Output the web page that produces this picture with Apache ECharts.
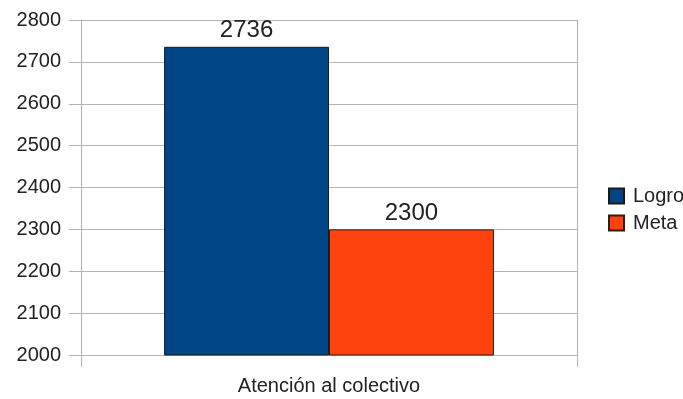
<!DOCTYPE html>
<html><head><meta charset="utf-8">
<script src="https://cdn.jsdelivr.net/npm/echarts@6/dist/echarts.min.js"></script>
<style>html,body{margin:0;padding:0;background:#fff}#c{width:683px;height:399px}</style>
</head><body><div id="c"></div>
<script>
var categories = ["Atención al colectivo"];
var seriesNames = ["Logro", "Meta"];
var logro = [2736];
var meta = [2300];
var yMin = 2000, yMax = 2800, yStep = 100;

var chart = echarts.init(document.getElementById('c'), null, {renderer: 'canvas'});
var font = 'Liberation Sans';
chart.setOption({
  animation: false,
  backgroundColor: '#fff',
  grid: {left: 81, right: 106, top: 20, bottom: 44, containLabel: false},
  legend: {
    orient: 'vertical', left: 603, top: 181,
    itemWidth: 15, itemHeight: 15, itemGap: 7,
    icon: 'rect',
    textStyle: {fontFamily: font, fontSize: 20, color: '#222', padding: [0,0,0,4], lineHeight: 20},
    data: seriesNames
  },
  xAxis: {
    type: 'category', data: categories,
    axisLine: {lineStyle: {color: '#b3b3b3'}},
    axisTick: {show: true, length: 12, lineStyle: {color: '#b3b3b3'}},
    splitLine: {show: true, lineStyle: {color: '#b3b3b3'}},
    axisLabel: {fontFamily: font, fontSize: 20, color: '#222', margin: 21}
  },
  yAxis: {
    type: 'value', min: yMin, max: yMax, interval: yStep,
    axisLine: {show: true, lineStyle: {color: '#b3b3b3'}},
    axisTick: {show: true, length: 12, lineStyle: {color: '#b3b3b3'}},
    splitLine: {lineStyle: {color: '#b3b3b3'}},
    axisLabel: {fontFamily: font, fontSize: 20, color: '#222', margin: 20,
      formatter: function (v) { return String(v); }}
  },
  series: [
    {name: seriesNames[0], type: 'bar', data: logro, barGap: '0%', barCategoryGap: '33.5%',
     itemStyle: {color: '#004586', borderColor: '#1a1a1a', borderWidth: 1},
     label: {show: true, position: 'top', distance: 4, fontFamily: font, fontSize: 24, color: '#222'}},
    {name: seriesNames[1], type: 'bar', data: meta, barGap: '0%', barCategoryGap: '33.5%',
     itemStyle: {color: '#ff420e', borderColor: '#3a1a0a', borderWidth: 1},
     label: {show: true, position: 'top', distance: 4, fontFamily: font, fontSize: 24, color: '#222'}}
  ]
});
</script></body></html>
